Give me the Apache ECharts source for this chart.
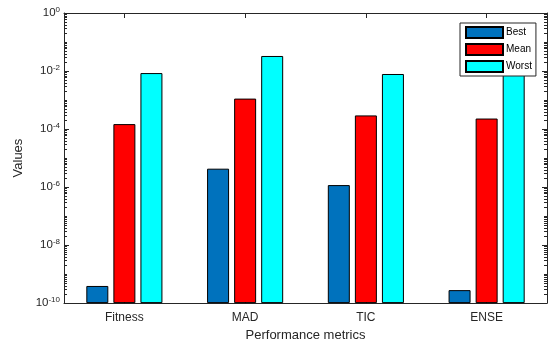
<!DOCTYPE html>
<html><head><meta charset="utf-8">
<script src="https://cdn.jsdelivr.net/npm/echarts@6/dist/echarts.min.js"></script>
<style>html,body{margin:0;padding:0;background:#fff;overflow:hidden}#c{width:556px;height:347px}</style>
</head><body><div id="c"></div>
<script>
var categories = ['Fitness', 'MAD', 'TIC', 'ENSE'];
var bestValues = [3.9e-10, 4.3e-6, 1.17e-6, 2.8e-10];
var meanValues = [1.48e-4, 1.12e-3, 2.95e-4, 2.3e-4];
var worstValues = [8.5e-3, 3.3e-2, 7.9e-3, 1.5e-2];
var yTickExponents = [-10, -8, -6, -4, -2, 0];

var axisColor = '#262626';
var fontFam = '"Liberation Sans", Arial, Helvetica, sans-serif';

var minorTicks = [];
for (var k = -10; k < 0; k++) {
  for (var m = 1; m <= 9; m++) {
    if (m === 1 && k % 2 === 0) continue;
    minorTicks.push([0, m * Math.pow(10, k)]);
  }
}

var chart = echarts.init(document.getElementById('c'), null, {renderer: 'canvas'});
var barStyle = function (c) { return {color: c, borderColor: '#000', borderWidth: 1}; };
var yMin = Math.pow(10, yTickExponents[0]);
var yMax = Math.pow(10, yTickExponents[yTickExponents.length - 1]);

var yAxisBase = {
  type: 'log', logBase: 10, min: yMin, max: yMax, interval: 2, startValue: yMin,
  axisLine: {show: true, lineStyle: {color: axisColor, width: 1}},
  axisTick: {show: true, inside: true, length: 5, lineStyle: {color: axisColor}},
  splitLine: {show: false}
};

chart.setOption({
  animation: false,
  textStyle: {fontFamily: fontFam},
  grid: {left: 64, right: 9, top: 13, bottom: 40, containLabel: false},
  legend: {
    data: ['Best', 'Mean', 'Worst'], orient: 'vertical', left: 460, top: 23,
    itemWidth: 37, itemHeight: 11, itemGap: 4,
    padding: [3, 4, 3, 5], borderColor: axisColor, borderWidth: 1, backgroundColor: '#fff',
    icon: 'rect',
    textStyle: {fontSize: 10, color: '#000', fontFamily: fontFam, padding: [0, 0, 0, -2]}
  },
  xAxis: [{
    type: 'category', data: categories, position: 'bottom',
    name: 'Performance metrics', nameLocation: 'middle', nameGap: 25,
    nameTextStyle: {fontSize: 13, color: axisColor, fontFamily: fontFam},
    axisLine: {show: true, lineStyle: {color: axisColor, width: 1}},
    axisTick: {show: true, inside: true, length: 5, alignWithLabel: true, lineStyle: {color: axisColor}},
    axisLabel: {fontSize: 12, color: axisColor, margin: 9, fontFamily: fontFam}
  }, {
    type: 'category', data: categories, position: 'top',
    axisLine: {show: true, lineStyle: {color: axisColor, width: 1}},
    axisTick: {show: true, inside: true, length: 5, alignWithLabel: true, lineStyle: {color: axisColor}},
    axisLabel: {show: false}
  }],
  yAxis: [Object.assign({}, yAxisBase, {
    position: 'left',
    name: 'Values', nameLocation: 'middle', nameGap: 38, nameRotate: 90,
    nameTextStyle: {fontSize: 13, color: axisColor, fontFamily: fontFam},
    axisLabel: {
      margin: 4, color: axisColor,
      formatter: function (v) { return '10{sup|' + Math.round(Math.log10(v)) + '}'; },
      rich: {sup: {fontSize: 8, color: axisColor, padding: [0, 0, 7, 0], fontFamily: fontFam}},
      fontSize: 11.5, fontFamily: fontFam
    }
  }), Object.assign({}, yAxisBase, {
    position: 'right', axisLabel: {show: false}
  })],
  series: [
    {name: 'Best', type: 'bar', data: bestValues, barWidth: 22, barGap: '23%', itemStyle: barStyle('#0072BD')},
    {name: 'Mean', type: 'bar', data: meanValues, barWidth: 22, barGap: '23%', itemStyle: barStyle('#FF0000')},
    {name: 'Worst', type: 'bar', data: worstValues, barWidth: 22, barGap: '23%', itemStyle: barStyle('#00FFFF')},
    {
      name: 'minor', type: 'custom', data: minorTicks, silent: true, z: 5,
      renderItem: function (params, api) {
        var y = Math.round(api.coord([0, api.value(1)])[1]) + 0.5;
        var cs = params.coordSys;
        return {type: 'group', children: [
          {type: 'line', shape: {x1: cs.x, y1: y, x2: cs.x + 3, y2: y}, style: {stroke: axisColor, lineWidth: 1}},
          {type: 'line', shape: {x1: cs.x + cs.width, y1: y, x2: cs.x + cs.width - 3, y2: y}, style: {stroke: axisColor, lineWidth: 1}}
        ]};
      }
    }
  ]
});
</script></body></html>
